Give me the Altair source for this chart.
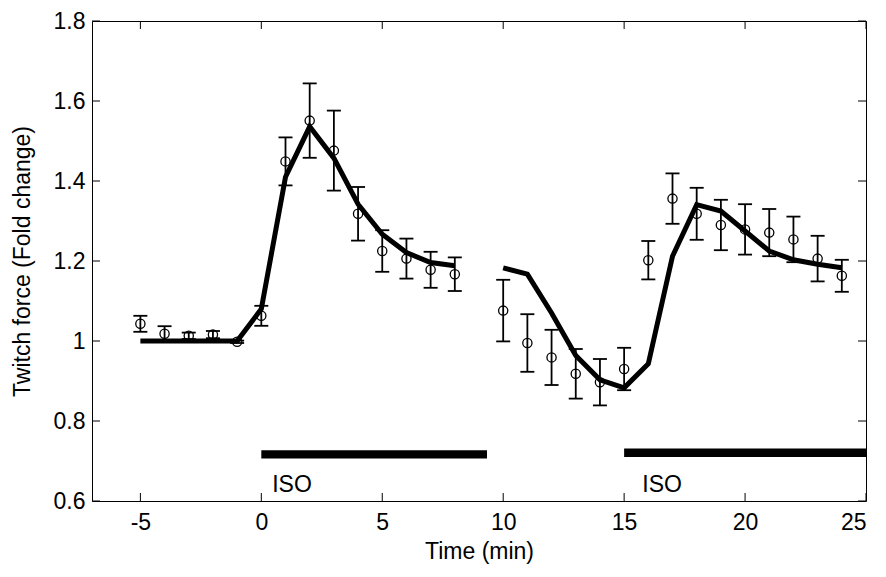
import altair as alt
import pandas as pd

# ---- data ----
t1 = [-5, -4, -3, -2, -1, 0, 1, 2, 3, 4, 5, 6, 7, 8]
y1 = [1.043, 1.018, 1.013, 1.016, 0.998, 1.063, 1.449, 1.551, 1.476, 1.318, 1.225, 1.206, 1.178, 1.167]
e1 = [0.020, 0.019, 0.008, 0.009, 0.003, 0.025, 0.060, 0.093, 0.100, 0.067, 0.052, 0.050, 0.045, 0.042]

t2 = [10, 11, 12, 13, 14, 15, 16, 17, 18, 19, 20, 21, 22, 23, 24]
y2 = [1.076, 0.995, 0.959, 0.918, 0.897, 0.930, 1.202, 1.356, 1.318, 1.290, 1.279, 1.271, 1.254, 1.206, 1.163]
e2 = [0.077, 0.072, 0.069, 0.062, 0.058, 0.053, 0.048, 0.063, 0.065, 0.063, 0.063, 0.059, 0.057, 0.057, 0.040]

m1x = [-5, -4, -3, -2, -1, 0, 1, 2, 3, 4, 5, 6, 7, 8]
m1y = [1.0, 1.0, 1.0, 1.0, 1.0, 1.08, 1.41, 1.536, 1.457, 1.342, 1.267, 1.221, 1.196, 1.188]
m2x = [10, 11, 12, 13, 14, 15, 16, 17, 18, 19, 20, 21, 22, 23, 24]
m2y = [1.183, 1.167, 1.07, 0.964, 0.903, 0.883, 0.943, 1.212, 1.341, 1.325, 1.275, 1.225, 1.203, 1.192, 1.183]

iso_x0 = [0, 15]
iso_x1 = [9.33, 25]
iso_y0 = [0.706, 0.710]
iso_y1 = [0.727, 0.731]
iso_label = ["ISO", "ISO"]
iso_tx = [0.45, 15.75]
iso_ty = [0.623, 0.623]

xticks = [-5, 0, 5, 10, 15, 20, 25]
yticks = [0.6, 0.8, 1, 1.2, 1.4, 1.6, 1.8]

# ---- tables ----
pts = pd.DataFrame({"x": t1 + t2, "y": y1 + y2, "e": e1 + e2})
pts["lo"] = pts["y"] - pts["e"]
pts["hi"] = pts["y"] + pts["e"]
model = pd.DataFrame({"x": m1x + m2x, "y": m1y + m2y,
                      "seg": ["a"] * len(m1x) + ["b"] * len(m2x)})
iso = pd.DataFrame({"x0": iso_x0, "x1": iso_x1, "y0": iso_y0, "y1": iso_y1,
                    "tx": iso_tx, "ty": iso_ty, "label": iso_label})
xt = pd.DataFrame({"v": xticks})
yt = pd.DataFrame({"v": yticks})

W, H = 774, 480
FONT = "Liberation Sans"
FS = 23
TL = 8

xs = alt.Scale(domain=[-7, 25], nice=False, zero=False)
ys = alt.Scale(domain=[0.6, 1.8], nice=False, zero=False)

xaxis = alt.Axis(values=xticks, labelExpr="'' + datum.value", title="Time (min)",
                 domain=False, ticks=False, grid=False,
                 labelFont=FONT, labelFontSize=FS, labelPadding=10, labelColor="black",
                 titleFont=FONT, titleFontSize=FS, titleFontWeight="normal", titleColor="black",
                 titleY=50, titleBaseline="middle")
yaxis = alt.Axis(values=yticks, labelExpr="'' + datum.value", title="Twitch force (Fold change)",
                 domain=False, ticks=False, grid=False,
                 labelFont=FONT, labelFontSize=FS, labelPadding=7, labelColor="black",
                 titleFont=FONT, titleFontSize=FS, titleFontWeight="normal", titleColor="black",
                 titleX=-70, titleY=H / 2, titleAngle=-90, titleBaseline="middle", titleAlign="center")


def X(f):
    return alt.X(f, type="quantitative", scale=xs, axis=xaxis)


def Y(f):
    return alt.Y(f, type="quantitative", scale=ys, axis=yaxis)


lines = alt.Chart(model).mark_line(color="black", strokeWidth=5, strokeCap="butt",
                                   strokeJoin="miter").encode(
    x=X("x"), y=Y("y"), detail="seg:N")

ebar = alt.Chart(pts).mark_rule(color="black", strokeWidth=1.8).encode(
    x=X("x"), y=Y("lo"), y2="hi")
cap_lo = alt.Chart(pts).mark_tick(color="black", orient="horizontal", size=14,
                                  thickness=1.8, opacity=1).encode(x=X("x"), y=Y("lo"))
cap_hi = alt.Chart(pts).mark_tick(color="black", orient="horizontal", size=14,
                                  thickness=1.8, opacity=1).encode(x=X("x"), y=Y("hi"))
points = alt.Chart(pts).mark_point(shape="circle", filled=False, color="black",
                                   size=85, strokeWidth=1.3, opacity=1).encode(
    x=X("x"), y=Y("y"))

bars = alt.Chart(iso).mark_rect(color="black").encode(
    x=X("x0"), x2="x1", y=Y("y0"), y2="y1")
texts = alt.Chart(iso).mark_text(font=FONT, fontSize=FS, align="left",
                                 baseline="alphabetic", color="black").encode(
    x=X("tx"), y=Y("ty"), text="label:N")

tick_left = alt.Chart(yt).mark_rule(color="black", strokeWidth=1).encode(
    y=Y("v"), x=alt.value(0), x2=alt.value(TL))
tick_right = alt.Chart(yt).mark_rule(color="black", strokeWidth=1).encode(
    y=Y("v"), x=alt.value(W - TL), x2=alt.value(W))
tick_bottom = alt.Chart(xt).mark_rule(color="black", strokeWidth=1).encode(
    x=X("v"), y=alt.value(H), y2=alt.value(H - TL))
tick_top = alt.Chart(xt).mark_rule(color="black", strokeWidth=1).encode(
    x=X("v"), y=alt.value(0), y2=alt.value(TL))

chart = alt.layer(
    bars, texts, ebar, cap_lo, cap_hi, lines, points,
    tick_left, tick_right, tick_bottom, tick_top
).properties(
    width=W, height=H,
    autosize=alt.AutoSizeParams(type="none"),
    padding={"left": 84, "top": 13, "right": 12, "bottom": 68},
    background="white",
).configure_view(stroke="black", strokeWidth=1)

chart.save("out.html", embed_options={"renderer": "svg", "actions": False})
